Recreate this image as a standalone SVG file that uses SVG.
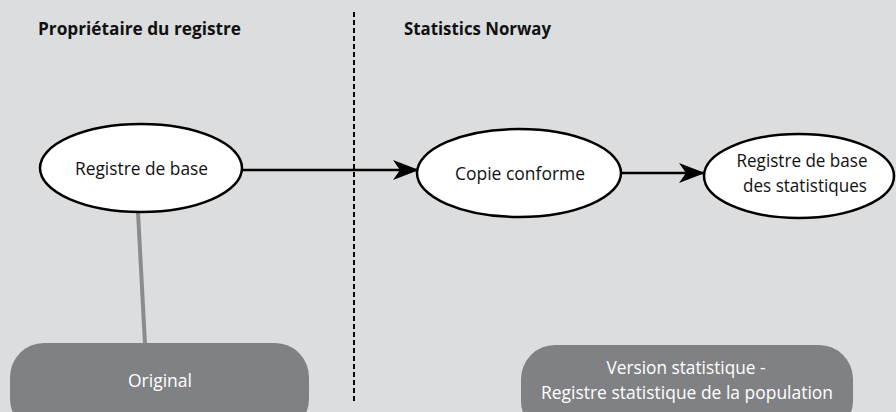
<svg xmlns="http://www.w3.org/2000/svg" width="896" height="412" viewBox="0 0 896 412">
  <style>
    .title { font-family: "Open Sans", "Liberation Sans", sans-serif; font-weight: bold; font-size: 17px; fill: #111; }
    .oval { fill: #ffffff; stroke: #000000; stroke-width: 2.5; }
    .oval-text { font-family: "Open Sans", "Liberation Sans", sans-serif; font-size: 19px; fill: #111; text-anchor: middle; }
    .pill { fill: #808184; }
    .pill-text { font-family: "Open Sans", "Liberation Sans", sans-serif; font-size: 18px; fill: #ffffff; text-anchor: middle; }
    .flow { stroke: #000000; stroke-width: 2.5; fill: none; }
  </style>
  <defs>
    <marker id="arrow" viewBox="0 0 26 20" refX="25" refY="10" markerWidth="26" markerHeight="20" markerUnits="userSpaceOnUse" orient="auto">
      <path d="M0,0 L26,10 L0,20 L7,10 Z" fill="#000000"/>
    </marker>
  </defs>

  <rect x="0" y="0" width="896" height="412" fill="#dcdddf"/>

  <!-- section headings -->
  <text class="title" x="38" y="35" textLength="203" lengthAdjust="spacingAndGlyphs">Propriétaire du registre</text>
  <text class="title" x="404" y="35" textLength="147" lengthAdjust="spacingAndGlyphs">Statistics Norway</text>

  <!-- divider between owner and Statistics Norway -->
  <line x1="354" y1="12" x2="354" y2="402" stroke="#000000" stroke-width="2" stroke-dasharray="5,3"/>

  <g id="connectors">
    <line x1="138" y1="212" x2="145" y2="344" stroke="#8a8b8d" stroke-width="4"/>
    <path class="flow" d="M242,170 L418,170" marker-end="url(#arrow)"/>
    <path class="flow" d="M621,173 L704,173" marker-end="url(#arrow)"/>
  </g>

  <g id="registre-de-base">
    <ellipse class="oval" cx="141" cy="168" rx="101" ry="44"/>
    <text class="oval-text" x="141.5" y="175" textLength="133" lengthAdjust="spacingAndGlyphs">Registre de base</text>
  </g>

  <g id="copie-conforme">
    <ellipse class="oval" cx="519" cy="173" rx="102" ry="44"/>
    <text class="oval-text" x="520" y="180" textLength="130" lengthAdjust="spacingAndGlyphs">Copie conforme</text>
  </g>

  <g id="registre-statistiques">
    <ellipse class="oval" cx="799" cy="176" rx="95" ry="42"/>
    <text class="oval-text" x="802" y="167" textLength="131" lengthAdjust="spacingAndGlyphs">Registre de base</text>
    <text class="oval-text" x="805" y="192" textLength="124" lengthAdjust="spacingAndGlyphs">des statistiques</text>
  </g>

  <g id="original">
    <rect class="pill" x="10" y="343" width="299" height="90" rx="34" ry="34"/>
    <text class="pill-text" x="160" y="387" textLength="64" lengthAdjust="spacingAndGlyphs">Original</text>
  </g>

  <g id="version-statistique">
    <rect class="pill" x="521" y="345" width="332" height="90" rx="34" ry="34"/>
    <text class="pill-text" x="686" y="374" textLength="159" lengthAdjust="spacingAndGlyphs">Version statistique -</text>
    <text class="pill-text" x="687" y="399" textLength="292" lengthAdjust="spacingAndGlyphs">Registre statistique de la population</text>
  </g>
</svg>
